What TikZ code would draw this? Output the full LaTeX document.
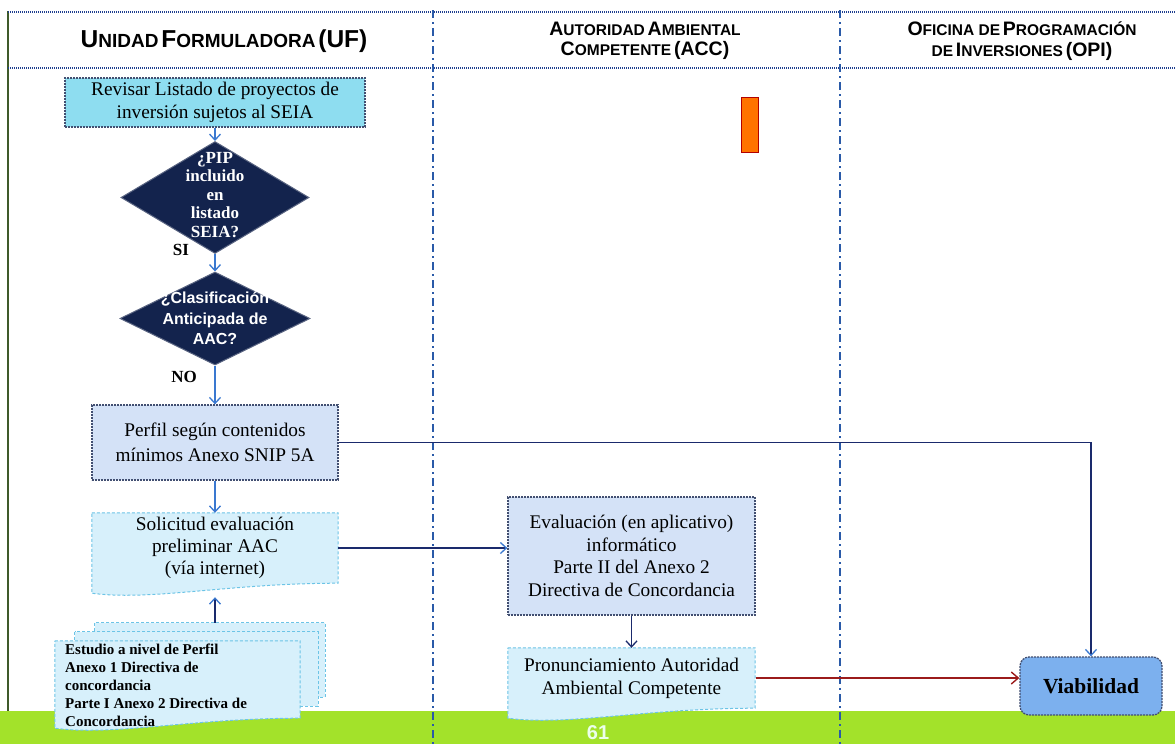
\documentclass[tikz,border=0pt]{standalone}
\usepackage{fontspec}
\setmainfont{Liberation Serif}
\newfontfamily\hfont{Liberation Sans}
\usetikzlibrary{arrows.meta,calc,shapes.geometric}
\pgfdeclarelayer{background}
\pgfdeclarelayer{base}
\pgfsetlayers{base,background,main}
\definecolor{navy}{HTML}{13234D}
\definecolor{lanecol}{HTML}{2A5AA8}
\definecolor{dotcol}{HTML}{1F3F8F}
\definecolor{cyanfill}{HTML}{8EDDF0}
\definecolor{bluefill}{HTML}{D4E2F7}
\definecolor{docfill}{HTML}{D7F0FB}
\definecolor{docline}{HTML}{6CC4E6}
\definecolor{viafill}{HTML}{7CB0EE}
\definecolor{arrblue}{HTML}{3A78D0}
\definecolor{darkline}{HTML}{1A2A6C}
\definecolor{redline}{HTML}{9B1B1B}
\definecolor{bandgreen}{HTML}{A3E22A}
\definecolor{edgegreen}{HTML}{3F5A2A}
\newcommand\HL[2]{{\fontsize{24.5}{28}\selectfont #1}{\fontsize{19}{22}\selectfont #2}}
\newcommand\HR[2]{{\fontsize{19.5}{22}\selectfont #1}{\fontsize{15.5}{18}\selectfont #2}}
\newcommand\docpath[2]{\path[#2] (#1.north west) -- (#1.north east) -- (#1.south east)
  .. controls ($(#1.south east)+(-110,0)$) and ($(#1.south west)+(60,18)$) .. ($(#1.south west)+(0,10)$) -- cycle;}
\tikzset{
  boxtext/.style={align=center,font=\fontsize{19.3}{23}\selectfont,inner sep=0pt},
  procbox/.style={rectangle,draw=navy!80,dashed,dash pattern=on 2pt off 1pt,line width=1.3pt,boxtext},
  dia/.style={diamond,fill=navy,draw=navy!70!white,line width=1pt,inner sep=0pt},
  diatext/.style={text=white,align=center,font=\bfseries\fontsize{17}{18.5}\selectfont},
  docshape/.style={fill=docfill,draw=docline,dashed,dash pattern=on 3pt off 2pt,line width=1pt},
  flow/.style={draw=arrblue,line width=1.8pt,-{Straight Barb[length=6pt,width=11pt,line width=1.3pt]}},
  darkflow/.style={draw=darkline,line width=1.5pt,-{Straight Barb[length=6pt,width=11pt,line width=1.3pt,color=arrblue]}},
  redflow/.style={draw=redline,line width=2pt,-{Straight Barb[length=7pt,width=12pt,line width=1.4pt]}},
  lane/.style={draw=lanecol,line width=2pt,dash pattern=on 8pt off 4pt on 2pt off 4pt},
  dotline/.style={draw=dotcol,line width=2pt,dash pattern=on 1pt off 1pt},
  lbl/.style={font=\bfseries\fontsize{17}{20}\selectfont,inner sep=0pt}
}
\begin{document}
\begin{tikzpicture}[x=1pt,y=-1pt]
\useasboundingbox (0,0) rectangle (1175,744);
\begin{pgfonlayer}{base}
\fill[white] (0,0) rectangle (1175,744);
% bottom band
\fill[bandgreen] (0,711) rectangle (1175,744);
% frame lines
\draw[edgegreen,line width=1.5pt] (8,11) -- (8,711);
\draw[dotline] (8,12) -- (1175,12);
\draw[dotline] (8,68) -- (1175,68);
\draw[lane] (433,10) -- (433,744);
\draw[lane] (840,10) -- (840,744);
\end{pgfonlayer}
% headers
\node[font=\hfont\bfseries] (hUF) at (224,41) {\HL{U}{NIDAD} \HL{F}{ORMULADORA} \HL{(UF)}{}};
\node[font=\hfont\bfseries,align=center,inner sep=0pt] (hACC) at (645,41) {\HR{A}{UTORIDAD} \HR{A}{MBIENTAL}\\[5pt]\HR{C}{OMPETENTE} \HR{(ACC)}{}};
\node[font=\hfont\bfseries,align=center,inner sep=0pt] (hOPI) at (1022,41) {\HR{O}{FICINA DE} \HR{P}{ROGRAMACIÓN}\\[5pt]\HR{}{DE} \HR{I}{NVERSIONES} \HR{(OPI)}{}};
% orange marker
\node[rectangle,fill=orange!90!red,draw=red!70!black,line width=1.2pt,minimum width=17pt,minimum height=55pt,inner sep=0pt] (mark) at (750,125) {};
% nodes
\node[procbox,fill=cyanfill,minimum width=300pt,minimum height=49pt] (rev) at (215,102.5) {Revisar Listado de proyectos de\\inversión sujetos al SEIA};
\node[dia,minimum width=188pt,minimum height=112pt] (d1) at (215,197.5) {};
\node[diatext] (d1t) at (215,195) {¿PIP\\incluido\\en\\listado\\SEIA?};
\node[dia,minimum width=190pt,minimum height=93pt] (d2) at (215,318.5) {};
\node[diatext,font=\hfont\bfseries\fontsize{16}{20.5}\selectfont] (d2t) at (d2) {¿Clasificación\\Anticipada de\\AAC?};
\node[lbl] (si) at (181,250) {SI};
\node[lbl] (no) at (184,377) {NO};
\node[procbox,fill=bluefill,minimum width=246pt,minimum height=75pt,font=\fontsize{19.3}{25}\selectfont] (perf) at (215,442.5) {Perfil según contenidos\\mínimos Anexo SNIP 5A};
\node[boxtext,minimum width=246pt,minimum height=70pt,font=\fontsize{19.3}{22}\selectfont] (sol) at (215,548) {Solicitud evaluación\\preliminar AAC\\(vía internet)};
\node[procbox,fill=bluefill,minimum width=247pt,minimum height=118pt,font=\fontsize{19.3}{22.5}\selectfont] (eva) at (631.5,556) {Evaluación (en aplicativo)\\informático\\Parte II del Anexo 2\\Directiva de Concordancia};
\node[boxtext,minimum width=247pt,minimum height=60pt] (pro) at (631.5,678) {Pronunciamiento Autoridad\\Ambiental Competente};
\node[procbox,rounded corners=9pt,fill=viafill,minimum width=142pt,minimum height=58pt,font=\bfseries\fontsize{21.5}{24}\selectfont] (via) at (1091,686) {Viabilidad};
% multi document
\node[rectangle,minimum width=230pt,minimum height=74pt,inner sep=0pt] (md3) at (210,660) {};
\node[rectangle,minimum width=243pt,minimum height=74pt,inner sep=0pt] (md2) at (196.5,669) {};
\node[rectangle,minimum width=245pt,minimum height=77pt,inner sep=0pt] (md1) at (177.5,679.5) {};
\node[anchor=north west,align=left,inner sep=0pt,font=\bfseries\fontsize{15}{18}\selectfont] (mdt) at (65,644) {Estudio a nivel de Perfil\\Anexo 1 Directiva de\\concordancia\\Parte I Anexo 2 Directiva de\\Concordancia};
\node[font=\hfont\bfseries\fontsize{20}{22}\selectfont,text=white!92!green,inner sep=0pt] (pg) at (598,733) {61};
\begin{pgfonlayer}{background}
\path[docshape] (md3.north west) rectangle (md3.south east);
\path[docshape] (md2.north west) rectangle (md2.south east);
\docpath{md1}{docshape}
\docpath{sol}{docshape}
\docpath{pro}{docshape}
\end{pgfonlayer}
% connectors
\draw[flow] (rev.south) -- (d1.north);
\draw[flow] (d1.south) -- (d2.north);
\draw[flow] (d2.south) -- (perf.north);
\draw[flow] (perf.south) -- (sol.north);
\draw[darkflow] (md3.north -| sol.south) -- ($(sol.south)+(0,14)$);
\draw[darkflow] (sol.east) -- (sol.east -| eva.west);
\draw[flow,draw=darkline] (eva.south) -- (pro.north);
\draw[darkflow] (perf.east) -| (via.north);
\draw[redflow] (pro.east -| eva.east) -- (pro.east -| via.west);
\end{tikzpicture}
\end{document}
